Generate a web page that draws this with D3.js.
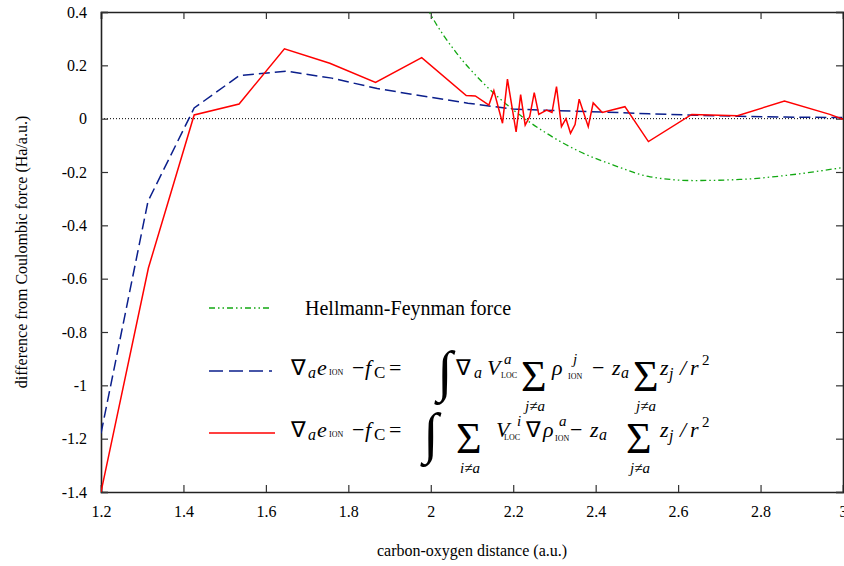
<!DOCTYPE html>
<html><head><meta charset="utf-8">
<script src="https://cdn.jsdelivr.net/npm/d3@7"></script>
</head><body style="margin:0;background:#fff"><svg id="c" width="844" height="566" style="display:block"></svg>
<script>
// ---- data ----
const xTicks = [1.2,1.4,1.6,1.8,2,2.2,2.4,2.6,2.8,3];
const yTicks = [0.4,0.2,0,-0.2,-0.4,-0.6,-0.8,-1,-1.2,-1.4];
const xTickLabels = ["1.2","1.4","1.6","1.8","2","2.2","2.4","2.6","2.8","3"];
const yTickLabels = ["0.4","0.2","0","-0.2","-0.4","-0.6","-0.8","-1","-1.2","-1.4"];

const hfX = [1.95,2.0,2.063,2.12,2.2,2.281,2.362,2.443,2.532,2.637,2.75,2.855,3.0];
const hfY = [0.55,0.39,0.245,0.145,0.033,-0.055,-0.124,-0.174,-0.218,-0.232,-0.228,-0.214,-0.183];

const blueX = [1.2,1.314,1.426,1.535,1.65,1.76,1.87,1.98,2.09,2.2,2.31,2.42,2.53,2.64,2.75,2.86,3.0];
const blueY = [-1.18,-0.31,0.04,0.161,0.178,0.152,0.113,0.085,0.058,0.036,0.03,0.025,0.018,0.013,0.009,0.006,0.004];

const redX = [1.2,1.315,1.426,1.535,1.645,1.755,1.866,1.978,2.086,2.108,2.141,2.153,2.174,2.186,2.207,2.218,2.229,2.24,2.251,2.262,2.281,2.294,2.305,2.317,2.328,2.339,2.35,2.36,2.382,2.394,2.416,2.471,2.528,2.633,2.744,2.858,2.968,3.0];
const redY = [-1.40,-0.56,0.014,0.055,0.262,0.208,0.136,0.229,0.087,0.085,0.051,0.105,-0.017,0.148,-0.05,0.09,-0.024,0.008,0.098,0.016,0.032,0.023,0.12,-0.03,0.0,-0.055,-0.022,0.073,-0.03,0.059,0.023,0.045,-0.086,0.016,0.011,0.066,0.016,-0.002];

const xLabel = "carbon-oxygen distance (a.u.)";
const yLabel = "difference from Coulombic force (Ha/a.u.)";
const legendHF = "Hellmann-Feynman force";

// ---- layout ----
const FONT = '"Liberation Serif"';
const L=101, R=843, T=12, B=492;
const svg = d3.select("#c");
const x = d3.scaleLinear().domain([1.2,3]).range([L,R]);
const y = d3.scaleLinear().domain([-1.4,0.4]).range([B,T]);

svg.append("defs").append("clipPath").attr("id","clip")
  .append("rect").attr("x",L).attr("y",T).attr("width",R-L).attr("height",B-T);

svg.append("line").attr("x1",L).attr("x2",R).attr("y1",y(0)).attr("y2",y(0))
  .attr("stroke","#000").attr("stroke-width",1).attr("stroke-dasharray","1,2");

const tl=7;
const axB = svg.append("g").attr("transform",`translate(0,${B})`)
  .call(d3.axisBottom(x).tickValues(xTicks).tickSize(-tl).tickPadding(14).tickFormat((d,i)=>xTickLabels[i]));
const axT = svg.append("g").attr("transform",`translate(0,${T})`)
  .call(d3.axisTop(x).tickValues(xTicks).tickSize(-tl).tickFormat(""));
const axL = svg.append("g").attr("transform",`translate(${L},0)`)
  .call(d3.axisLeft(y).tickValues(yTicks).tickSize(-tl).tickPadding(14).tickFormat((d,i)=>yTickLabels[i]));
const axR = svg.append("g").attr("transform",`translate(${R},0)`)
  .call(d3.axisRight(y).tickValues(yTicks).tickSize(-tl).tickFormat(""));
[axB,axT,axL,axR].forEach(a=>{
  a.select(".domain").attr("stroke","#222").attr("stroke-width",1.6);
  a.selectAll(".tick line").attr("stroke","#333").attr("stroke-width",1.2);
  a.selectAll("text").style("font-family",FONT).style("font-size","16px").attr("fill","#000");
});
axB.selectAll("text").attr("dy","0.71em");

const g = svg.append("g").attr("clip-path","url(#clip)");
const mk = (X,Y)=>X.map((v,i)=>[v,Y[i]]);
g.append("path").datum(mk(hfX,hfY))
  .attr("d",d3.line().x(d=>x(d[0])).y(d=>y(d[1])).curve(d3.curveMonotoneX))
  .attr("fill","none").attr("stroke","#12a812").attr("stroke-width",1.3)
  .attr("stroke-dasharray","6,3,1.5,3,1.5,3");
g.append("path").datum(mk(blueX,blueY))
  .attr("d",d3.line().x(d=>x(d[0])).y(d=>y(d[1])))
  .attr("fill","none").attr("stroke","#0b1f8c").attr("stroke-width",1.5)
  .attr("stroke-dasharray","11,5");
g.append("path").datum(mk(redX,redY))
  .attr("d",d3.line().x(d=>x(d[0])).y(d=>y(d[1])))
  .attr("fill","none").attr("stroke","#ff0000").attr("stroke-width",1.5);

svg.append("text").attr("x",(L+R)/2).attr("y",556).attr("text-anchor","middle")
  .style("font-family",FONT).style("font-size","16px").text(xLabel);
svg.append("text").attr("transform",`translate(27,${(T+B)/2}) rotate(-90)`).attr("text-anchor","middle")
  .style("font-family",FONT).style("font-size","16px").text(yLabel);

const lg = svg.append("g");
lg.append("line").attr("x1",209).attr("x2",272).attr("y1",308).attr("y2",308)
  .attr("stroke","#12a812").attr("stroke-width",1.3).attr("stroke-dasharray","6,3,1.5,3,1.5,3");
lg.append("text").attr("x",305).attr("y",315).style("font-family",FONT).style("font-size","20px").text(legendHF);
lg.append("line").attr("x1",209).attr("x2",272).attr("y1",371).attr("y2",371)
  .attr("stroke","#0b1f8c").attr("stroke-width",1.5).attr("stroke-dasharray","14,6");
lg.append("line").attr("x1",209).attr("x2",275).attr("y1",433).attr("y2",433)
  .attr("stroke","#ff0000").attr("stroke-width",1.5);

function t(xx,yy,s,size,it,anchor){
  return lg.append("text").attr("x",xx).attr("y",yy).style("font-family",FONT).style("font-size",size+"px")
    .style("font-style",it?"italic":"normal").attr("text-anchor",anchor||"start").text(s);
}
function lhs(y0){
  t(291,y0,"∇",22,false); t(308,y0+3,"a",16,true); t(317,y0,"e",22,true);
  t(329,y0,"ION",8,false); t(352,y0,"−",22,false); t(365,y0,"f",22,true);
  t(374,y0+3,"C",17,false); t(389,y0,"=",22,false);
}
function tail(y0,zx,sx,ux){
  t(zx,y0,"z",22,true); t(zx+9,y0+3,"a",16,true);
  t(sx,y0+16,"Σ",44,false);
  t(ux,y0+36,"j≠a",15,true,"middle");
  t(660,y0,"z",22,true); t(669,y0+4,"j",16,true); t(680,y0,"/",22,true);
  t(690,y0,"r",22,true); t(702,y0-10,"2",15,false);
}
const y1=375;
lhs(y1);
t(437,y1+15,"∫",56,false);
t(456,y1,"∇",22,false); t(474,y1+3,"a",16,true); t(487,y1,"V",22,true);
t(504,y1-11,"a",15,true); t(501,y1+3,"LOC",8,false);
t(521,y1+16,"Σ",44,false); t(535,y1+36,"j≠a",15,true,"middle");
t(552,y1,"ρ",22,true); t(573,y1-11,"j",15,true); t(568,y1+4,"ION",8,false);
t(592,y1,"−",22,false);
tail(y1,612,633,646);
const y2=437;
lhs(y2);
t(423,y2+15,"∫",56,false);
t(456,y2+16,"Σ",44,false); t(470,y2+36,"i≠a",15,true,"middle");
t(496,y2,"V",22,true); t(517,y2-11,"i",15,true); t(504,y2+3,"LOC",8,false);
t(526,y2,"∇",22,false); t(543,y2,"ρ",22,true); t(559,y2-11,"a",15,true); t(555,y2+4,"ION",8,false);
t(570,y2,"−",22,false);
tail(y2,590,626,640);
</script></body></html>
